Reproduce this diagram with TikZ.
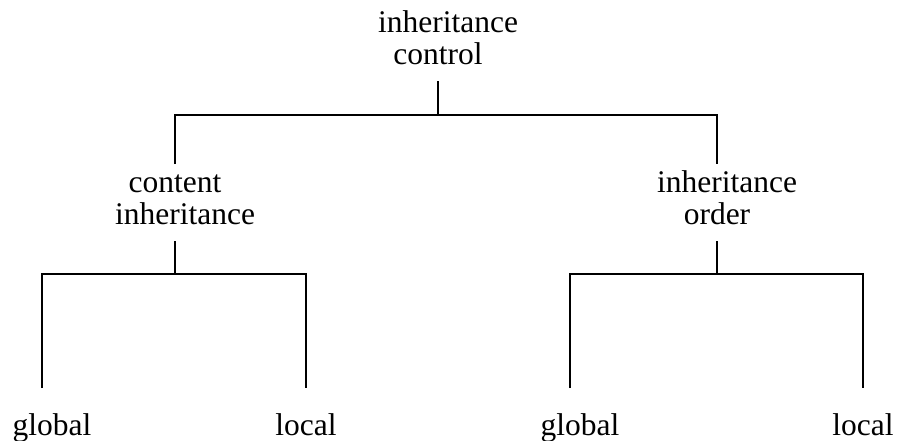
\documentclass[tikz,border=0pt]{standalone}
\usepackage{fontspec}
\setmainfont{Liberation Serif}
\newcommand\pushr[1]{\hspace*{10pt}#1\hspace*{-10pt}}
\begin{document}
\begin{tikzpicture}[x=1pt,y=-1pt,
  lbl/.style={font=\fontsize{31.5}{32}\selectfont, inner sep=0pt, outer xsep=0pt, outer ysep=6.5pt, align=center},
  leaf/.style={lbl, anchor=base, outer ysep=0pt},
  conn/.style={line width=2.2pt, line join=miter}]
\useasboundingbox (0,0) rectangle (898,441);
% labels
\node[lbl, anchor=north] (root) at (438,4.1) {\strut\pushr{inheritance}\\control\strut};
\node[lbl, anchor=north] (ci) at (175,164.1) {\strut content\\\pushr{inheritance}\strut};
\node[lbl, anchor=north] (io) at (717,164.1) {\strut\pushr{inheritance}\\order\strut};
\node[leaf] (g1) at (42,435) {\pushr{global}};
\node[leaf] (l1) at (306,435) {local};
\node[leaf] (g2) at (570,435) {\pushr{global}};
\node[leaf] (l2) at (863,435) {local};
% bar levels
\coordinate (b0) at (438,115);
\coordinate (b1) at (175,274);
\coordinate (b2) at (717,274);
% connectors
\draw[conn] (root.south) -- (root.south |- b0);
\draw[conn] (ci.north) -- (ci.north |- b0) -- (io.north |- b0) -- (io.north);
\draw[conn] (ci.south) -- (ci.south |- b1);
\draw[conn] ([yshift=47pt]g1.base) -- (g1.base |- b1) -- (l1.base |- b1) -- ([yshift=47pt]l1.base);
\draw[conn] (io.south) -- (io.south |- b2);
\draw[conn] ([yshift=47pt]g2.base) -- (g2.base |- b2) -- (l2.base |- b2) -- ([yshift=47pt]l2.base);
\end{tikzpicture}
\end{document}
